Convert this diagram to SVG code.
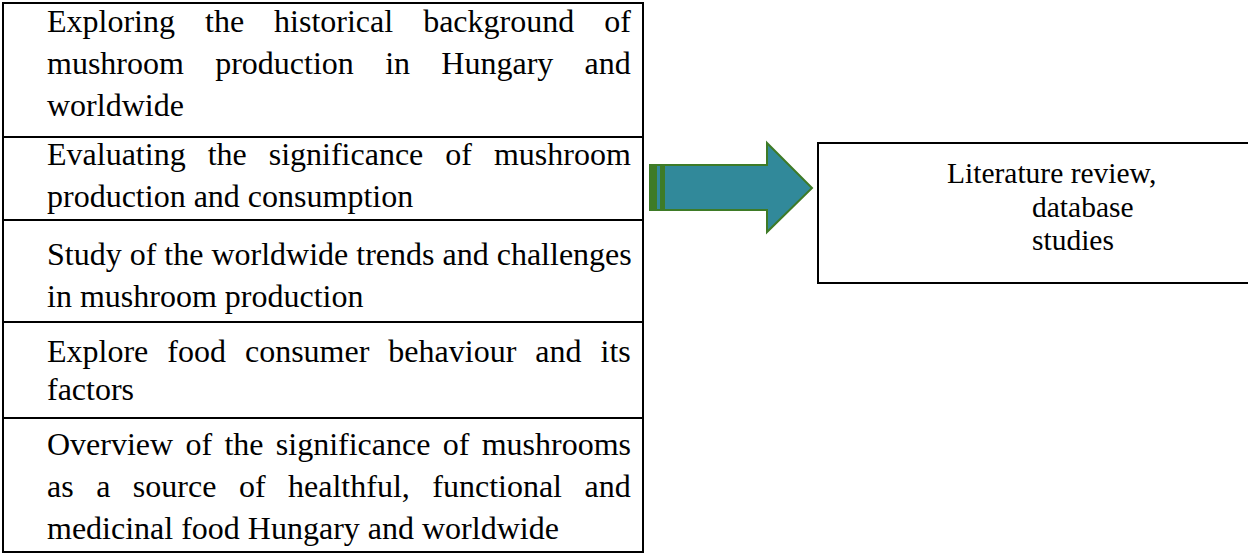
<svg xmlns="http://www.w3.org/2000/svg" width="1248" height="554" viewBox="0 0 1248 554">
<style>
.t{font-family:"Liberation Serif","Times New Roman",serif;font-size:32px;fill:#000}
.s{font-family:"Liberation Serif","Times New Roman",serif;font-size:29.5px;fill:#000}
.box{fill:#fff;stroke:#000;stroke-width:2}
.div{stroke:#000;stroke-width:2}
</style>
<rect width="1248" height="554" fill="#fff"/>
<g id="table">
<rect class="box" x="3" y="3" width="640" height="549"/>
<line class="div" x1="3" y1="137" x2="643" y2="137"/>
<line class="div" x1="3" y1="220" x2="643" y2="220"/>
<line class="div" x1="3" y1="322" x2="643" y2="322"/>
<line class="div" x1="3" y1="418" x2="643" y2="418"/>
</g>
<g id="row1">
<text class="t" x="47" y="32" word-spacing="22">Exploring the historical background of</text>
<text class="t" x="47" y="74" word-spacing="23.3">mushroom production in Hungary and</text>
<text class="t" x="47" y="116">worldwide</text>
</g>
<g id="row2">
<text class="t" x="47" y="165" word-spacing="14">Evaluating the significance of mushroom</text>
<text class="t" x="47" y="207">production and consumption</text>
</g>
<g id="row3">
<text class="t" x="47" y="265">Study of the worldwide trends and challenges</text>
<text class="t" x="47" y="307">in mushroom production</text>
</g>
<g id="row4">
<text class="t" x="47" y="362" word-spacing="11">Explore food consumer behaviour and its</text>
<text class="t" x="47" y="400">factors</text>
</g>
<g id="row5">
<text class="t" x="47" y="455" word-spacing="4.3">Overview of the significance of mushrooms</text>
<text class="t" x="47" y="497" word-spacing="14.5">as a source of healthful, functional and</text>
<text class="t" x="47" y="539">medicinal food Hungary and worldwide</text>
</g>
<g id="connectors">
<polygon points="650,165 767,165 767,143 812,188 767,232 767,210 650,210" fill="#31899A" stroke="#3E7B27" stroke-width="2"/>
<rect x="650" y="165" width="7" height="45" fill="#3E7B27"/>
<rect x="660" y="165" width="5" height="45" fill="#3E7B27"/>
</g>
<g id="result">
<rect class="box" x="818" y="143" width="440" height="140"/>
<text class="s" x="947" y="183">Literature review,</text>
<text class="s" x="1032" y="217">database</text>
<text class="s" x="1032" y="250">studies</text>
</g>
</svg>
